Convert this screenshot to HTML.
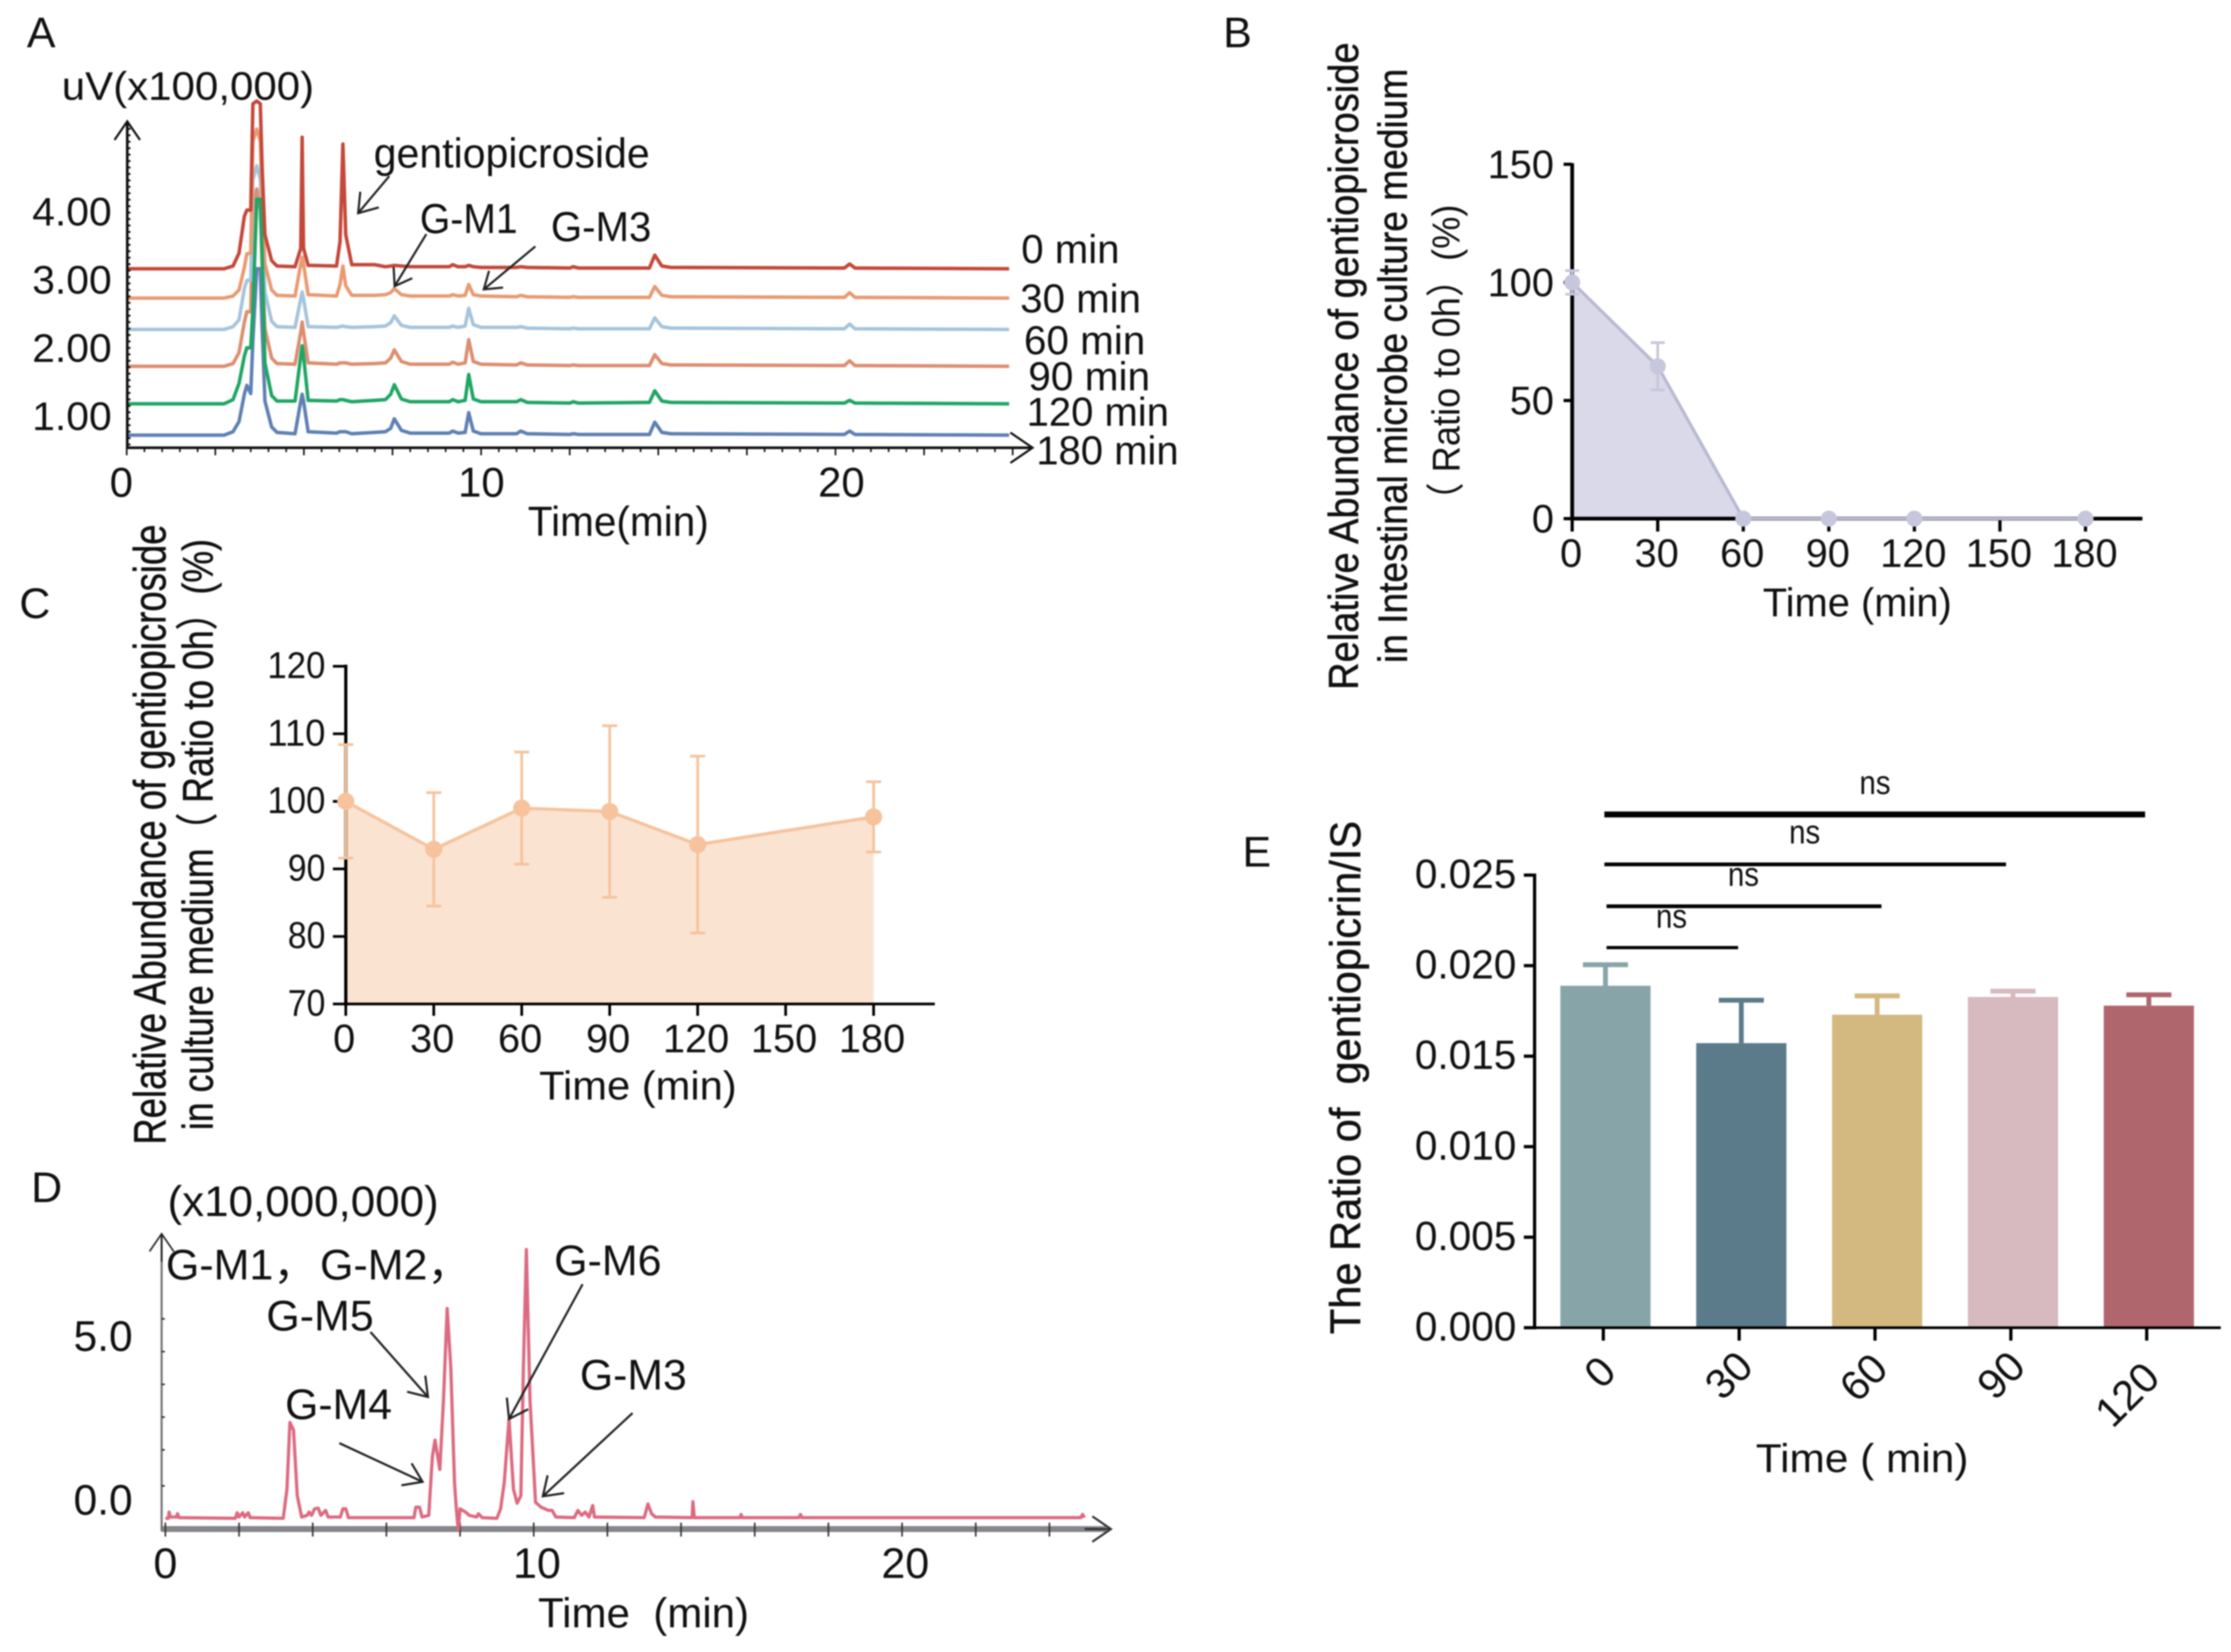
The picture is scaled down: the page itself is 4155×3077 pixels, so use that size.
<!DOCTYPE html>
<html lang="en">
<head>
<meta charset="utf-8">
<title>Gentiopicroside metabolism figure</title>
<style>
html,body{margin:0;padding:0;background:#fff;}
#figure{display:block;width:4155px;height:3077px;background:#fff;filter:blur(1.2px);
font-family:"Liberation Sans","Noto Sans CJK SC",sans-serif;fill:#111;}
text{fill:#111;}
.heavy{stroke:#111;stroke-width:0.9px;}
</style>
</head>
<body>
<svg id="figure" xmlns="http://www.w3.org/2000/svg" width="4155" height="3077" viewBox="0 0 4155 3077">
<rect width="4155" height="3077" fill="#fff"/>

<g id="panelA"></g>
<g id="panelB"></g>
<g id="panelC"></g>
<g id="panelD"></g>
<g id="panelE"></g>

<!-- Panel letters -->
<text x="50" y="88" font-size="80">A</text>
<text x="2278" y="88" font-size="80">B</text>
<text x="36" y="1151" font-size="80">C</text>
<text x="58" y="2239" font-size="80">D</text>
<text x="2314" y="1614" font-size="80">E</text>

<!-- Panel A labels -->
<text x="115" y="186" font-size="74" textLength="470" lengthAdjust="spacingAndGlyphs">uV(x100,000)</text>
<text x="696" y="312" font-size="78" textLength="514" lengthAdjust="spacingAndGlyphs">gentiopicroside</text>
<text x="782" y="434" font-size="78" textLength="182" lengthAdjust="spacingAndGlyphs">G-M1</text>
<text x="1026" y="449" font-size="78" textLength="187" lengthAdjust="spacingAndGlyphs">G-M3</text>
<text x="983" y="998" font-size="78" textLength="337" lengthAdjust="spacingAndGlyphs">Time(min)</text>
<text x="1902" y="490" font-size="75" textLength="183" lengthAdjust="spacingAndGlyphs">0 min</text>
<text x="1900" y="582" font-size="75" textLength="225" lengthAdjust="spacingAndGlyphs">30 min</text>
<text x="1907" y="660" font-size="75" textLength="226" lengthAdjust="spacingAndGlyphs">60 min</text>
<text x="1915" y="727" font-size="75" textLength="227" lengthAdjust="spacingAndGlyphs">90 min</text>
<text x="1912" y="793" font-size="75" textLength="265" lengthAdjust="spacingAndGlyphs">120 min</text>
<text x="1930" y="865" font-size="75" textLength="265" lengthAdjust="spacingAndGlyphs">180 min</text>

<!-- Panel B titles -->
<text class="heavy" transform="translate(2529,1285) rotate(-90)" font-size="78" textLength="1206" lengthAdjust="spacingAndGlyphs">Relative Abundance of gentiopicroside</text>
<text class="heavy" transform="translate(2620,1235) rotate(-90)" font-size="76" textLength="1107" lengthAdjust="spacingAndGlyphs">in Intestinal microbe culture medium</text>
<text transform="translate(2718,966) rotate(-90)" font-size="72" textLength="585" lengthAdjust="spacingAndGlyphs">（ Ratio to 0h）(%)</text>
<text x="3283" y="1148" font-size="75" textLength="352" lengthAdjust="spacingAndGlyphs">Time (min)</text>

<!-- Panel C titles -->
<text class="heavy" transform="translate(308,2132) rotate(-90)" font-size="84" textLength="1155" lengthAdjust="spacingAndGlyphs">Relative Abundance of gentiopicroside</text>
<text class="heavy" transform="translate(396,2105) rotate(-90)" font-size="80" textLength="1101" lengthAdjust="spacingAndGlyphs">in culture medium（ Ratio to 0h）(%)</text>
<text x="1004" y="2048" font-size="75" textLength="368" lengthAdjust="spacingAndGlyphs">Time (min)</text>

<!-- Panel D labels -->
<text x="312" y="2265" font-size="80" textLength="505" lengthAdjust="spacingAndGlyphs">(x10,000,000)</text>
<text x="309" y="2383" font-size="80">G-M1，</text>
<text x="596" y="2383" font-size="80">G-M2，</text>
<text x="496" y="2478" font-size="80" textLength="200" lengthAdjust="spacingAndGlyphs">G-M5</text>
<text x="531" y="2643" font-size="80" textLength="199" lengthAdjust="spacingAndGlyphs">G-M4</text>
<text x="1032" y="2375" font-size="80" textLength="200" lengthAdjust="spacingAndGlyphs">G-M6</text>
<text x="1080" y="2588" font-size="80" textLength="199" lengthAdjust="spacingAndGlyphs">G-M3</text>
<text x="1002" y="3031" font-size="78" textLength="393" lengthAdjust="spacingAndGlyphs">Time&#160;&#160;(min)</text>

<!-- Panel E titles -->
<text class="heavy" transform="translate(2533,2485) rotate(-90)" font-size="80" textLength="956" lengthAdjust="spacingAndGlyphs">The Ratio of&#160;&#160;gentiopicrin/IS</text>
<text x="3270" y="2742" font-size="75" textLength="396" lengthAdjust="spacingAndGlyphs">Time ( min)</text>
</svg>

<script>
/* ---------- Panel A: chromatogram values ---------- */
const aTimes = [0,2.75,3.0,3.17,3.32,3.39,3.5,3.56,3.67,3.77,3.82,3.9,4.09,4.24,
  4.75,4.91,4.95,4.99,5.12, 5.92,6.02,6.1,6.18,6.35,
  7.0,7.3,7.45,7.55,7.75,8.0, 9.1,9.2,9.35,9.55,9.65,9.78,10.0,
  11.0,11.12,11.3, 12.5,12.6,12.75, 14.75,14.9,15.1,15.35, 20.25,20.4,20.55, 24.9];
const aSignal0 = [0,0,.04,.23,.77,.86,.86,2.42,2.46,2.42,1.5,.5,.12,.04,
  .03,.3,1.93,.3,.05, .04,.4,1.83,.5,.06,
  .06,.03,.04,.05,.04,.03, .03,.06,.03,.03,.05,.03,.02,
  .02,.03,.02, .01,.03,.01, .01,.2,.04,.02, .01,.07,.01, 0];
const aSignal30 = [0,0,.03,.12,.45,.65,.66,2.3,2.48,2.3,1.5,.5,.12,.04,
  .03,.5,.6,.5,.05, .03,.2,.47,.18,.04,
  .04,.05,.08,.14,.05,.03, .03,.05,.03,.04,.2,.05,.03,
  .02,.04,.02, .01,.02,.01, .01,.17,.04,.02, .01,.08,.01, 0];
const aSignal60 = [0,0,.04,.14,.6,.72,.72,2.2,2.4,2.2,1.5,.55,.12,.04,
  .03,.45,.55,.45,.04, .03,.04,.05,.04,.03,
  .04,.05,.1,.2,.06,.03, .03,.05,.03,.05,.31,.07,.03,
  .03,.04,.02, .01,.02,.01, .01,.17,.04,.02, .01,.08,.01, 0];
const aSignal90 = [0,0,.04,.2,.65,.8,.8,2.3,2.6,2.3,1.5,.55,.12,.04,
  .03,.5,.65,.5,.05, .03,.05,.05,.05,.03,
  .04,.05,.12,.24,.07,.03, .03,.06,.03,.05,.39,.07,.03,
  .02,.05,.02, .01,.02,.01, .01,.17,.04,.02, .01,.08,.01, 0];
const aSignal120 = [0,0,.06,.3,.7,.82,.82,1.4,3.0,3.0,2.2,.6,.12,.04,
  .04,.7,.85,.7,.05, .04,.06,.06,.05,.03,
  .05,.06,.14,.28,.07,.03, .03,.06,.03,.05,.43,.07,.03,
  .03,.06,.02, .01,.03,.01, .02,.19,.04,.02, .01,.05,.01, 0];
const aSignal180 = [0,0,.05,.2,.6,.73,.61,1.4,2.44,2.44,1.6,.5,.12,.04,
  .02,.5,.6,.5,.05, .03,.05,.05,.05,.02,
  .04,.05,.1,.24,.07,.03, .03,.06,.03,.04,.33,.06,.02,
  .02,.06,.02, .01,.02,.01, .01,.19,.04,.02, .01,.06,.01, 0];
const aBaselines = [3.2,2.77,2.31,1.77,1.22,0.76];
const aXTickLabels = [0,10,20];
const aYTickValues = [1,2,3,4];

/* ---------- Panel B values ---------- */
const bTimes = [0,30,60,90,120,180];
const bMeans = [100,64.5,0,0,0,0];
const bErrors = [5,10,0,0,0,0];
const bXTicks = [0,30,60,90,120,150,180];
const bYTicks = [0,50,100,150];

/* ---------- Panel C values ---------- */
const cTimes = [0,30,60,90,120,180];
const cMeans = [100,92.9,99,98.5,93.6,97.7];
const cErrors = [8.4,8.4,8.3,12.7,13.1,5.2];
const cXTicks = [0,30,60,90,120,150,180];
const cYTicks = [70,80,90,100,110,120];

/* ---------- Panel D: chromatogram values ---------- */
const dTimes = [0,.08,.1,.14,.3,.33,.37,1.9,1.95,2.0,2.1,2.15,2.25,2.3,3.2,3.3,3.38,3.48,3.58,3.7,3.85,3.9,3.97,4.05,4.15,4.22,4.35,4.42,4.75,4.82,4.9,4.97,6.75,6.8,6.9,6.97,7.15,7.25,7.32,7.45,7.55,7.65,7.75,7.85,7.9,7.95,8.0,8.15,8.25,8.45,8.5,8.6,9.0,9.1,9.2,9.33,9.45,9.55,9.65,9.72,9.8,9.9,10.05,10.2,10.3,10.4,10.5,10.6,11.1,11.2,11.3,11.4,11.5,11.6,11.65,13,13.1,13.2,13.3,14.3,14.32,14.36,15.6,15.63,15.66,17.2,17.24,17.28,24.85,24.9,24.95];
const dValues = [-.59,-.59,-.4,-.55,-.55,-.45,-.57,-.59,-.42,-.55,-.42,-.55,-.42,-.57,-.59,.3,2.34,2.1,.1,-.55,-.5,-.4,-.5,-.3,-.28,-.5,-.35,-.55,-.55,-.3,-.3,-.57,-.57,-.25,-.25,-.55,-.5,1.3,1.8,.9,3,5.82,4,.5,-.3,-.95,-.3,-.4,-.5,-.55,-.45,-.57,-.59,-.3,.5,2.44,.3,-.13,.1,4,7.62,3,-.1,-.25,-.3,-.35,-.35,-.55,-.57,-.35,-.5,-.4,-.55,-.2,-.55,-.57,-.15,-.45,-.55,-.57,-.08,-.57,-.57,-.47,-.57,-.57,-.47,-.57,-.57,-.47,-.57];
const dXTickLabels = [0,10,20];
const dYTickLabels = [0,5];
const dMinorYTicks = [0.4,1.5,2.5,3.5,4.5,5.5];

/* ---------- Panel E values ---------- */
const eCategories = ['0','30','60','90','120'];
const eMeans = [0.01889,0.01572,0.01729,0.01827,0.01779];
const eErrorTops = [0.02005,0.01809,0.01833,0.01859,0.01839];
const eYTicks = [0,0.005,0.010,0.015,0.020,0.025];

/* ---------- helpers ---------- */
const NS = 'http://www.w3.org/2000/svg';
function mk(parent, tag, name, attrs, txt){
  const el = document.createElementNS(NS, tag);
  
  
  for (const k in attrs) el.setAttribute(k, attrs[k]);
  if (txt !== undefined) el.textContent = txt;
  parent.appendChild(el);
  return el;
}
function line(p, name, x1, y1, x2, y2, color, w){
  return mk(p, 'line', name, {x1:x1, y1:y1, x2:x2, y2:y2, stroke:color, 'stroke-width':w});
}
function poly(p, name, xs, ys, color, w){
  const pts = xs.map((x,i)=>x.toFixed(1)+','+ys[i].toFixed(1)).join(' ');
  return mk(p, 'polyline', name, {points:pts, fill:'none', stroke:color, 'stroke-width':w, 'stroke-linejoin':'round'});
}
function arrow(p, name, x1, y1, x2, y2, color, w, head){
  const g = mk(p, 'g', name, {});
  const a = Math.atan2(y2-y1, x2-x1);
  const d = 'M'+x1+' '+y1+'L'+x2+' '+y2+
    'M'+(x2-head*Math.cos(a-0.6))+' '+(y2-head*Math.sin(a-0.6))+'L'+x2+' '+y2+
    'L'+(x2-head*Math.cos(a+0.6))+' '+(y2-head*Math.sin(a+0.6));
  mk(g, 'path', name+'-path', {d:d, fill:'none', stroke:color, 'stroke-width':w});
  return g;
}

/* ---------- Panel A ---------- */
(function(){
  const p = document.getElementById('panelA');
  const xA = t => 236 + 66*t;
  const yA = v => 780 - (v-1)*127;
  const order = [
    {s:aSignal180, b:aBaselines[5], c:'#5f80b4', n:'trace-180-min'},
    {s:aSignal90,  b:aBaselines[3], c:'#dd8e70', n:'trace-90-min'},
    {s:aSignal60,  b:aBaselines[2], c:'#a6c4dc', n:'trace-60-min'},
    {s:aSignal30,  b:aBaselines[1], c:'#e99a72', n:'trace-30-min'},
    {s:aSignal120, b:aBaselines[4], c:'#1fa663', n:'trace-120-min'},
    {s:aSignal0,   b:aBaselines[0], c:'#c4483a', n:'trace-0-min'}
  ];
  order.forEach(o=>{
    poly(p, o.n, aTimes.map(xA), o.s.map(v=>yA(o.b+v)), o.c, 6.5);
  });
  line(p, 'a-y-axis', 237, 834, 237, 228, '#111', 5);
  arrow(p, 'a-y-axis-arrow', 237, 280, 237, 226, '#111', 4, 42);
  line(p, 'a-x-axis', 237, 834, 1920, 834, '#111', 5);
  arrow(p, 'a-x-axis-arrow', 1860, 834, 1923, 834, '#111', 4, 50);
  for (let y=240; y<834; y+=12) {
    line(p, 'a-y-minor-tick', 237, y, 243, y, '#111', 3.5);
  }
  for (let t=0; t<=25; t+=0.5) {
    const major = (t % 2.5) === 0;
    line(p, 'a-x-tick', xA(t), 834, xA(t), 834+(major?14:8), '#111', 3);
  }
  aXTickLabels.forEach(v=>{
    mk(p, 'text', 'a-x-tick-label', {x:xA(v)-10+v*1.05, y:925, 'font-size':78, 'text-anchor':'middle'}, String(v));
  });
  aYTickValues.forEach(v=>{
    mk(p, 'text', 'a-y-tick-label', {x:60, y:yA(v)+21, 'font-size':74, textLength:148, lengthAdjust:'spacingAndGlyphs'}, v.toFixed(2));
  });
  arrow(p, 'gentiopicroside-arrow', 725, 328, 667, 397, '#222', 4, 40);
  arrow(p, 'a-g-m1-arrow', 794, 436, 735, 533, '#222', 4, 36);
  arrow(p, 'a-g-m3-arrow', 997, 459, 901, 539, '#222', 4, 36);
})();

/* ---------- Panel B ---------- */
(function(){
  const p = document.getElementById('panelB');
  const xB = t => 2928 + t*(956/180);
  const yB = v => 966 - v*4.4;
  const fill = bTimes.map(t=>xB(t).toFixed(1)).map((x,i)=>x+','+yB(bMeans[i]).toFixed(1)).join(' ');
  mk(p, 'polygon', 'b-area-fill', {points:xB(0)+','+yB(0)+' '+fill+' '+xB(180)+','+yB(0), fill:'#d9d9ea'});
  line(p, 'b-y-axis', 2928, 969, 2928, 304, '#000', 7);
  line(p, 'b-x-axis', 2925, 966, 3990, 966, '#000', 7);
  bXTicks.forEach(t=>{
    line(p, 'b-x-tick', xB(t), 966, xB(t), 990, '#000', 6);
    mk(p, 'text', 'b-x-tick-label', {x:xB(t)-2, y:1056, 'font-size':74, 'text-anchor':'middle'}, String(t));
  });
  bYTicks.forEach(v=>{
    line(p, 'b-y-tick', 2912, yB(v), 2928, yB(v), '#000', 6);
    mk(p, 'text', 'b-y-tick-label', {x:2894, y:yB(v)+26, 'font-size':74, 'text-anchor':'end'}, String(v));
  });
  poly(p, 'b-mean-line', bTimes.map(xB), bMeans.map(yB), '#b9b9d3', 6);
  bTimes.forEach((t,i)=>{
    if (bErrors[i] > 0) {
      const c = '#c6c6dd';
      line(p, 'b-error-bar', xB(t), yB(bMeans[i]+bErrors[i]), xB(t), yB(bMeans[i]-bErrors[i]), c, 5);
      line(p, 'b-error-cap-top', xB(t)-13, yB(bMeans[i]+bErrors[i]), xB(t)+13, yB(bMeans[i]+bErrors[i]), c, 5);
      line(p, 'b-error-cap-bottom', xB(t)-13, yB(bMeans[i]-bErrors[i]), xB(t)+13, yB(bMeans[i]-bErrors[i]), c, 5);
    }
    mk(p, 'circle', 'b-point', {cx:xB(t), cy:yB(bMeans[i]), r:15, fill:'#c6c6dd'});
  });
})();

/* ---------- Panel C ---------- */
(function(){
  const p = document.getElementById('panelC');
  const xC = t => 644 + t*(983/180);
  const yC = v => 1870 - (v-70)*12.58;
  const pts = cTimes.map((t,i)=>xC(t).toFixed(1)+','+yC(cMeans[i]).toFixed(1)).join(' ');
  mk(p, 'polygon', 'c-area-fill', {points:xC(0)+','+yC(70)+' '+pts+' '+xC(180)+','+yC(70), fill:'#fbe3d2'});
  line(p, 'c-y-axis', 644, 1873, 644, 1238, '#000', 6);
  line(p, 'c-x-axis', 641, 1870, 1741, 1870, '#000', 5);
  cXTicks.forEach(t=>{
    line(p, 'c-x-tick', xC(t), 1870, xC(t), 1892, '#000', 5);
    mk(p, 'text', 'c-x-tick-label', {x:xC(t)-3, y:1960, 'font-size':74, 'text-anchor':'middle'}, String(t));
  });
  cYTicks.forEach(v=>{
    line(p, 'c-y-tick', 620, yC(v), 644, yC(v), '#000', 5);
    mk(p, 'text', 'c-y-tick-label', {x:606, y:yC(v)+22, 'font-size':70, 'text-anchor':'end', textLength:v>=100?108:70, lengthAdjust:'spacingAndGlyphs'}, String(v));
  });
  poly(p, 'c-mean-line', cTimes.map(xC), cMeans.map(yC), '#f6c39c', 6);
  cTimes.forEach((t,i)=>{
    const c = '#f6c39c';
    line(p, 'c-error-bar', xC(t), yC(cMeans[i]+cErrors[i]), xC(t), yC(cMeans[i]-cErrors[i]), c, 5);
    line(p, 'c-error-cap-top', xC(t)-14, yC(cMeans[i]+cErrors[i]), xC(t)+14, yC(cMeans[i]+cErrors[i]), c, 5);
    line(p, 'c-error-cap-bottom', xC(t)-14, yC(cMeans[i]-cErrors[i]), xC(t)+14, yC(cMeans[i]-cErrors[i]), c, 5);
    mk(p, 'circle', 'c-point', {cx:xC(t), cy:yC(cMeans[i]), r:16, fill:c});
  });
})();

/* ---------- Panel D ---------- */
(function(){
  const p = document.getElementById('panelD');
  const xD = t => 308 + 68.6*t;
  const yD = v => 2792 - 61*v;
  line(p, 'd-x-axis', 301, 2848, 2060, 2848, '#85858a', 11);
  arrow(p, 'd-x-axis-arrow', 2020, 2848, 2069, 2848, '#333', 4, 42);
  line(p, 'd-y-axis', 301, 2852, 301, 2300, '#777', 4);
  arrow(p, 'd-y-axis-arrow', 301, 2350, 301, 2298, '#222', 3, 40);
  for (let t=0; t<=24; t+=2) {
    line(p, 'd-x-tick', xD(t), 2836, xD(t), 2862, '#333', 3);
  }
  dMinorYTicks.forEach(v=>{
    line(p, 'd-y-tick', 301, yD(v), 307, yD(v), '#333', 3);
  });
  poly(p, 'd-trace', dTimes.map(xD), dValues.map(yD), '#dc6a80', 6);
  dXTickLabels.forEach(v=>{
    mk(p, 'text', 'd-x-tick-label', {x:xD(v)+(v?6:0), y:2939, 'font-size':80, 'text-anchor':'middle'}, String(v));
  });
  dYTickLabels.forEach(v=>{
    mk(p, 'text', 'd-y-tick-label', {x:137, y:yD(v)+29, 'font-size':80, textLength:110, lengthAdjust:'spacingAndGlyphs'}, v.toFixed(1));
  });
  arrow(p, 'd-g-m5-arrow', 690, 2481, 797, 2602, '#222', 4, 40);
  arrow(p, 'd-g-m4-arrow', 632, 2688, 787, 2760, '#222', 4, 40);
  arrow(p, 'd-g-m6-arrow', 1085, 2392, 948, 2643, '#222', 4, 40);
  arrow(p, 'd-g-m3-arrow', 1178, 2632, 1011, 2787, '#222', 4, 40);
})();

/* ---------- Panel E ---------- */
(function(){
  const p = document.getElementById('panelE');
  const colors = ['#87a5a9','#5b7b8b','#d3b97f','#d7b9c0','#b0666d'];
  const xE = i => 2990 + i*253;
  const yE = v => 2473 - v*33720;
  eMeans.forEach((m,i)=>{
    const c = colors[i];
    line(p, 'e-error-stem', xE(i), yE(eErrorTops[i]), xE(i), yE(m), c, 9);
    line(p, 'e-error-cap', xE(i)-42, yE(eErrorTops[i]), xE(i)+42, yE(eErrorTops[i]), c, 9);
    mk(p, 'rect', 'e-bar-'+eCategories[i], {x:xE(i)-84, y:yE(m), width:168, height:yE(0)-yE(m), fill:c});
  });
  line(p, 'e-y-axis', 2858, 2476, 2858, 1627, '#000', 6);
  line(p, 'e-x-axis', 2838, 2473, 4136, 2473, '#000', 5);
  eYTicks.forEach(v=>{
    line(p, 'e-y-tick', 2838, yE(v), 2858, yE(v), '#000', 6);
    mk(p, 'text', 'e-y-tick-label', {x:2635, y:yE(v)+24, 'font-size':76, textLength:189, lengthAdjust:'spacingAndGlyphs'}, v.toFixed(3));
  });
  const labelDx = [-10,-23,-25,-22,-40];
  const labelDy = [2556,2562,2566,2562,2598];
  eCategories.forEach((c,i)=>{
    line(p, 'e-x-tick', xE(i)-4, 2473, xE(i)-4, 2497, '#000', 6);
    mk(p, 'text', 'e-x-tick-label', {transform:'translate('+(xE(i)+labelDx[i])+','+labelDy[i]+') rotate(-45)', 'font-size':78, 'text-anchor':'middle', dy:26}, c);
  });
  const sig = [
    {x1:2988,x2:3995,y:1517,w:11,tx:3463,ty:1479},
    {x1:2988,x2:3736,y:1610,w:7,tx:3332,ty:1571},
    {x1:2992,x2:3504,y:1688,w:7,tx:3218,ty:1650},
    {x1:2992,x2:3237,y:1765,w:6,tx:3084,ty:1728}
  ];
  sig.forEach(s=>{
    line(p, 'e-significance-bar', s.x1, s.y, s.x2, s.y, '#000', s.w);
    mk(p, 'text', 'e-significance-label', {x:s.tx, y:s.ty, 'font-size':62, textLength:58, lengthAdjust:'spacingAndGlyphs'}, 'ns');
  });
})();
</script>
</body>
</html>
